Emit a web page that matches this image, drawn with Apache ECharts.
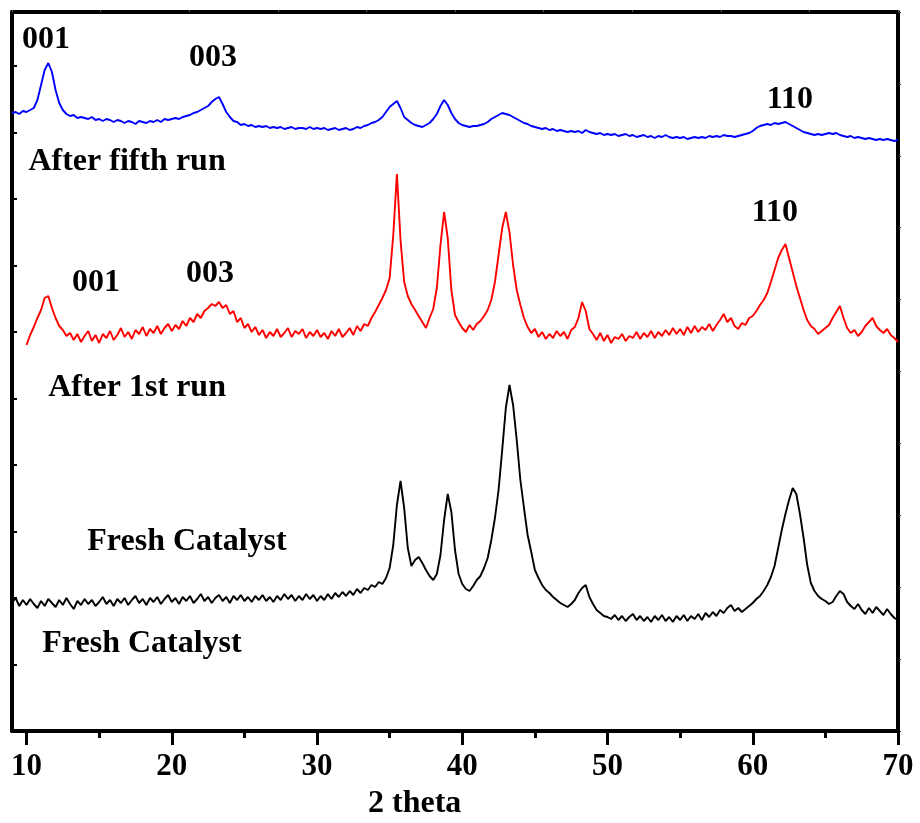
<!DOCTYPE html>
<html>
<head>
<meta charset="utf-8">
<script src="https://cdn.jsdelivr.net/npm/echarts@6/dist/echarts.min.js"></script>
<style>
  html, body { margin: 0; padding: 0; background: #ffffff; }
  #chart { width: 920px; height: 823px; }
</style>
</head>
<body>
<div id="chart"></div>
<script>
// XRD scans: intensity (a.u., patterns stacked with offsets) sampled every 0.25 deg 2-theta
const scanStep = 0.25;

const afterFifthRunStart = 9;
const afterFifthRun = [
  618, 619, 617, 620,  619, 621, 623, 631,  646, 661, 668, 659,  641, 628, 621, 617,
  615, 616, 613, 614,  613, 612, 614, 611,  612, 610, 612, 611,  609, 611, 610, 608,
  610, 609, 607, 610,  609, 608, 610, 609,  611, 609, 612, 611,  612, 613, 612, 614,
  615, 616, 618, 619,  621, 623, 625, 629,  632, 634, 627, 619,  614, 610, 609, 606,
  607, 605, 606, 604,  605, 604, 605, 603,  604, 603, 604, 602,  603, 604, 602, 603,
  603, 602, 604, 602,  603, 602, 603, 601,  602, 603, 601, 602,  603, 601, 602, 604,
  603, 605, 606, 608,  609, 611, 614, 619,  624, 627, 630, 623,  614, 611, 608, 606,
  605, 604, 606, 608,  612, 617, 625, 631,  626, 618, 612, 608,  606, 605, 604, 605,
  605, 606, 607, 609,  612, 614, 616, 618,  617, 616, 614, 612,  610, 608, 607, 605,
  604, 603, 602, 603,  601, 602, 600, 601,  600, 599, 600, 599,  600, 598, 601, 599,
  598, 597, 598, 596,  597, 596, 597, 595,  596, 597, 595, 596,  594, 595, 596, 594,
  595, 593, 595, 594,  596, 594, 593, 594,  593, 594, 592, 593,  594, 593, 594, 593,
  595, 594, 595, 594,  596, 595, 595, 594,  595, 596, 597, 598,  600, 603, 605, 606,
  607, 606, 608, 607,  608, 609, 607, 605,  603, 601, 599, 598,  597, 596, 597, 596,
  597, 598, 597, 598,  596, 595, 594, 595,  593, 594, 593, 592,  593, 592, 591, 592,
  591, 592, 591, 590,  591
];

const afterFirstRunStart = 10;
const afterFirstRun = [
  386, 396, 404, 413,  421, 433, 435, 423,  413, 405, 401, 395,  398, 391, 397, 389,
  395, 400, 390, 396,  388, 397, 393, 400,  391, 396, 403, 394,  399, 392, 401, 397,
  404, 395, 402, 398,  405, 397, 403, 407,  400, 406, 402, 410,  405, 413, 409, 417,
  413, 420, 423, 427,  425, 429, 423, 426,  417, 420, 409, 413,  403, 407, 399, 404,
  396, 401, 393, 399,  395, 402, 394, 398,  403, 394, 400, 397,  402, 393, 399, 395,
  401, 394, 398, 392,  400, 395, 402, 394,  398, 403, 396, 405,  400, 407, 405, 413,
  419, 426, 433, 441,  453, 496, 557, 491,  449, 435, 427, 421,  415, 409, 403, 413,
  422, 443, 486, 519,  493, 441, 416, 409,  403, 399, 406, 401,  407, 410, 415, 421,
  431, 449, 476, 503,  519, 499, 466, 441,  426, 413, 404, 398,  402, 394, 399, 392,
  397, 393, 400, 395,  399, 392, 401, 404,  413, 429, 420, 402,  397, 391, 398, 390,
  396, 388, 394, 392,  397, 390, 395, 393,  399, 392, 398, 394,  400, 393, 399, 395,
  401, 396, 403, 397,  402, 396, 404, 398,  405, 399, 404, 401,  407, 400, 406, 411,
  417, 409, 413, 405,  402, 408, 406, 413,  415, 420, 426, 431,  438, 449, 461, 473,
  481, 487, 473, 459,  445, 433, 421, 411,  405, 402, 397, 400,  403, 406, 413, 419,
  425, 413, 403, 398,  401, 395, 399, 405,  409, 413, 405, 401,  398, 402, 396, 393,
  389
];

const freshCatalystStart = 9;
const freshCatalyst = [
  128, 133, 125, 131,  126, 132, 127, 123,  130, 125, 132, 128,  124, 131, 126, 133,
  127, 122, 130, 126,  132, 127, 131, 125,  129, 134, 127, 131,  125, 132, 128, 133,
  126, 131, 135, 128,  132, 126, 133, 129,  134, 127, 132, 136,  129, 133, 127, 134,
  130, 135, 128, 132,  137, 130, 134, 128,  133, 136, 130, 134,  128, 135, 131, 136,
  130, 134, 129, 135,  131, 136, 130, 134,  129, 135, 131, 137,  132, 136, 130, 135,
  131, 137, 132, 136,  130, 135, 131, 137,  132, 138, 134, 139,  135, 140, 136, 142,
  138, 143, 141, 146,  144, 149, 147, 153,  163, 186, 226, 250,  223, 183, 165, 171,
  174, 168, 161, 155,  151, 157, 176, 211,  237, 219, 181, 157,  147, 142, 140, 145,
  151, 155, 163, 173,  191, 213, 241, 281,  323, 346, 326, 291,  251, 223, 196, 179,
  161, 153, 146, 141,  138, 134, 131, 128,  126, 124, 127, 131,  138, 143, 146, 134,
  127, 121, 118, 115,  114, 112, 116, 111,  115, 110, 114, 117,  111, 115, 110, 114,
  109, 115, 111, 116,  110, 114, 109, 115,  111, 116, 110, 115,  112, 117, 111, 118,
  114, 119, 115, 121,  118, 123, 126, 120,  123, 119, 122, 125,  128, 132, 135, 140,
  146, 154, 165, 183,  201, 217, 231, 243,  237, 217, 193, 166,  148, 140, 135, 132,
  130, 127, 129, 135,  140, 137, 129, 125,  122, 127, 121, 117,  123, 118, 124, 120,
  116, 122, 117, 113,  111
];

// Axis ticks
const majorTicks = [10, 20, 30, 40, 50, 60, 70];
const minorTicks = [15, 25, 35, 45, 55, 65];

// Text annotations: [text, 2-theta, intensity]
const annotationText = ['001', '003', '110', 'After fifth run', '001', '003', '110', 'After 1st run', 'Fresh Catalyst', 'Fresh Catalyst'];
const annotationTwoTheta = [11.34, 22.84, 62.56, 16.92, 14.78, 22.63, 61.53, 17.61, 21.05, 17.95];
const annotationIntensity = [691, 673, 631, 569, 448, 457, 518, 343, 189, 87];

const serif = "'Liberation Serif', 'Times New Roman', serif";

function toPoints(start, values) {
  return values.map((v, i) => [start + i * scanStep, v]);
}

const chart = echarts.init(document.getElementById('chart'), null, { renderer: 'canvas' });

const lineBase = {
  type: 'line',
  showSymbol: false,
  symbol: 'none',
  smooth: false,
  silent: true,
  xAxisIndex: 0,
  yAxisIndex: 0
};

chart.setOption({
  animation: false,
  backgroundColor: '#ffffff',
  title: {
    text: '2 theta',
    left: 368,
    top: 788,
    padding: 0,
    textStyle: { fontFamily: serif, fontWeight: 'bold', fontSize: 32, color: '#000' }
  },
  grid: { left: 12, right: 22, top: 12, bottom: 92 },
  xAxis: [
    {
      type: 'value', min: 9, max: 70, position: 'bottom',
      axisLine: { lineStyle: { color: '#000', width: 4 } },
      axisTick: { show: true, inside: false, length: 14, customValues: majorTicks, lineStyle: { color: '#000', width: 3 } },
      axisLabel: { show: true, customValues: majorTicks, margin: 20, fontFamily: serif, fontWeight: 'bold', fontSize: 31, color: '#000' },
      splitLine: { show: false }
    },
    {
      type: 'value', min: 9, max: 70, position: 'bottom',
      axisLine: { show: false },
      axisTick: { show: true, inside: false, length: 7, customValues: minorTicks, lineStyle: { color: '#000', width: 3 } },
      axisLabel: { show: false },
      splitLine: { show: false }
    },
    {
      type: 'value', min: 0, max: 10, interval: 1, position: 'top',
      axisLine: { lineStyle: { color: '#000', width: 4 } },
      axisTick: { show: true, inside: false, length: 2, lineStyle: { color: '#555', width: 1 } },
      axisLabel: { show: false },
      splitLine: { show: false }
    }
  ],
  yAxis: [
    {
      type: 'value', min: 0, max: 719, interval: 66.5, position: 'left',
      axisLine: { show: true, lineStyle: { color: '#000', width: 4 } },
      axisTick: { show: true, inside: true, length: 5, lineStyle: { color: '#000', width: 2 } },
      axisLabel: { show: false },
      splitLine: { show: false }
    },
    {
      type: 'value', min: 0, max: 10, interval: 1, position: 'right',
      axisLine: { show: true, lineStyle: { color: '#000', width: 4 } },
      axisTick: { show: true, inside: false, length: 3, lineStyle: { color: '#333', width: 1 } },
      axisLabel: { show: false },
      splitLine: { show: false }
    }
  ],
  series: [
    Object.assign({}, lineBase, {
      name: 'Fresh Catalyst',
      data: toPoints(freshCatalystStart, freshCatalyst),
      lineStyle: { color: '#000000', width: 1.9 }
    }),
    Object.assign({}, lineBase, {
      name: 'After 1st run',
      data: toPoints(afterFirstRunStart, afterFirstRun),
      lineStyle: { color: '#ff0000', width: 1.9 }
    }),
    Object.assign({}, lineBase, {
      name: 'After fifth run',
      data: toPoints(afterFifthRunStart, afterFifthRun),
      lineStyle: { color: '#0000ff', width: 1.9 }
    }),
    {
      type: 'scatter',
      name: 'annotations',
      silent: true,
      symbolSize: 0,
      xAxisIndex: 0,
      yAxisIndex: 0,
      z: 5,
      itemStyle: { opacity: 1 },
      data: annotationText.map((t, i) => ({ name: t, value: [annotationTwoTheta[i], annotationIntensity[i]] })),
      label: {
        show: true,
        position: 'inside',
        formatter: '{b}',
        fontFamily: serif,
        fontWeight: 'bold',
        fontSize: 32,
        color: '#000000',
        opacity: 1
      }
    }
  ]
});
</script>
</body>
</html>
